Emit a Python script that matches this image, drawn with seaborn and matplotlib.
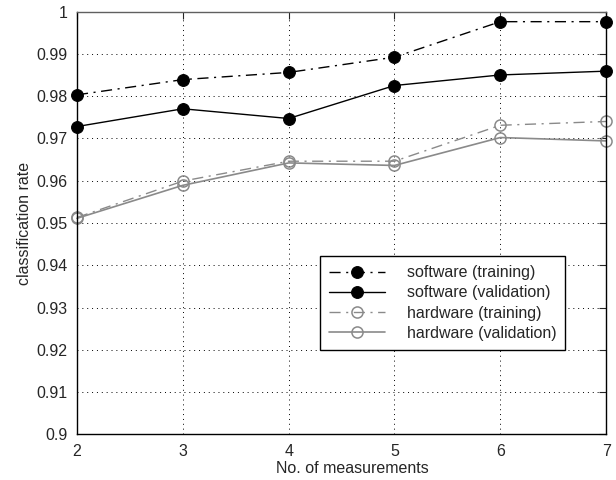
import numpy as np
import pandas as pd
import seaborn as sns
import matplotlib.pyplot as plt

measurements = [2, 3, 4, 5, 6, 7]
sw_train = [0.9803, 0.9839, 0.9856, 0.9892, 0.9976, 0.9976]
sw_valid = [0.9728, 0.9770, 0.9747, 0.9825, 0.9850, 0.9859]
hw_train = [0.9513, 0.9599, 0.9646, 0.9646, 0.9731, 0.9740]
hw_valid = [0.9511, 0.9589, 0.9642, 0.9636, 0.9702, 0.9694]
labels = ['software (training)', 'software (validation)',
          'hardware (training)', 'hardware (validation)']
y_ticks = [0.9, 0.91, 0.92, 0.93, 0.94, 0.95, 0.96, 0.97, 0.98, 0.99, 1.0]

sns.set_style('white')
plt.rcParams['font.family'] = ['Liberation Sans', 'DejaVu Sans']
fs = 11.5

fig, ax = plt.subplots(figsize=(6.16, 4.8), dpi=100)
fig.subplots_adjust(left=0.125, right=0.984, top=0.976, bottom=0.095)

gray = '#8a8a8a'
dashdot = (0, (8, 4, 1.5, 4))
styles = [
    dict(color='black', linestyle=dashdot, marker='o', markersize=8.5,
         markerfacecolor='black', markeredgecolor='black', linewidth=1.0),
    dict(color='black', linestyle='-', marker='o', markersize=8.5,
         markerfacecolor='black', markeredgecolor='black', linewidth=1.0),
    dict(color=gray, linestyle=dashdot, marker='o', markersize=8,
         markerfacecolor='none', markeredgecolor=gray, markeredgewidth=1.1, linewidth=1.0),
    dict(color=gray, linestyle='-', marker='o', markersize=8,
         markerfacecolor='none', markeredgecolor=gray, markeredgewidth=1.1, linewidth=1.2),
]

for vals, lab, st in zip([sw_train, sw_valid, hw_train, hw_valid], labels, styles):
    df = pd.DataFrame({'n': measurements, 'rate': vals})
    sns.lineplot(data=df, x='n', y='rate', ax=ax, label=lab, clip_on=False, **st)

ax.set_xlim(2, 7)
ax.set_ylim(0.9, 1.0)
ax.set_xticks(measurements)
ax.set_yticks(y_ticks)
ax.set_yticklabels(['%g' % t for t in y_ticks])
ax.grid(True, color='black', linestyle=(0, (1, 4)), linewidth=0.7)
ax.tick_params(direction='in', length=5, top=True, right=True, labelsize=fs, pad=7)
ax.set_xlabel('No. of measurements', fontsize=fs, labelpad=3)
ax.set_ylabel('classification rate', fontsize=fs, labelpad=3)
ax.xaxis.set_label_coords(0.52, -0.063)
for side, sp in ax.spines.items():
    sp.set_visible(True)
    sp.set_color('black')
    sp.set_linewidth(1.0)
ax.spines['top'].set_color('#606060')

# legend box anchored just above the 0.94 grid line, starting at x ~ 4.3
leg = ax.legend(loc='upper left', bbox_to_anchor=(4.30, 0.9421),
                bbox_transform=ax.transData, borderaxespad=0,
                frameon=True, fancybox=False, edgecolor='black', framealpha=1,
                fontsize=fs, handlelength=3.5, handletextpad=1.35,
                labelspacing=0.33, borderpad=0.55)
leg.get_frame().set_linewidth(1.0)

fig.savefig('out.png', dpi=100)
